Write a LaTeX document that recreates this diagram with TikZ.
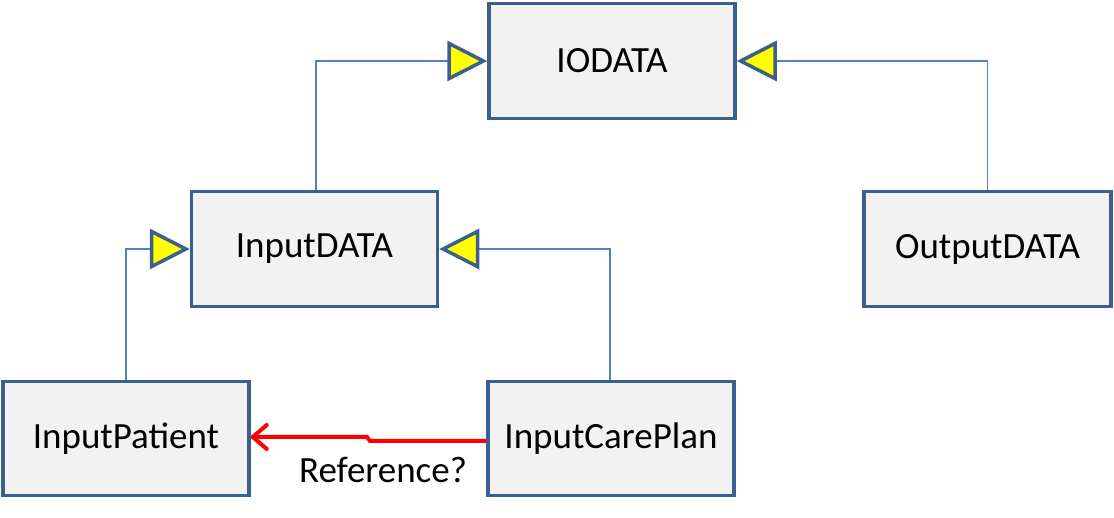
\documentclass[tikz,border=0pt]{standalone}
\usepackage{fontspec}
\setmainfont{Carlito}
\usetikzlibrary{arrows.meta}
\definecolor{bborder}{HTML}{3B5F8F}
\definecolor{bfill}{HTML}{F2F2F2}
\definecolor{lline}{HTML}{4F81BD}
\definecolor{tipyellow}{HTML}{FFFF00}
\definecolor{refred}{HTML}{FF0000}
\begin{document}
\begin{tikzpicture}[x=1pt,y=1pt,
  cls/.style={draw=bborder,fill=bfill,line width=3.5pt,minimum width=246pt,minimum height=115pt,inner sep=0pt,font=\fontsize{37}{44}\selectfont},
  inh/.style={draw=lline,line width=1.5pt,-{Triangle[fill=tipyellow,color=bborder,line width=3.5pt,length=40pt,width=40pt]}},
  refarrow/.style={draw=refred,line width=4pt,-{Straight Barb[length=14pt,width=24pt,line cap=round,line join=round]}},
  reflabel/.style={font=\fontsize{37}{44}\selectfont,inner sep=0pt}]
\useasboundingbox (0,0) rectangle (1114,517);
\node[cls] (io) at (612,456) {IODATA};
\node[cls] (idata) at (314.5,268) {InputDATA};
\node[cls,minimum width=247pt] (od) at (987.5,268) {OutputDATA};
\node[cls,minimum height=114pt] (ip) at (126,78.5) {InputPatient};
\node[cls,minimum height=114pt] (icp) at (611,78.5) {InputCarePlan};
\draw[inh] ([xshift=1.5pt]idata.north) |- (io.west);
\draw[inh] (od.north) |- (io.east);
\draw[inh] (ip.north) |- (idata.west);
\draw[inh] ([xshift=-1pt]icp.north) |- (idata.east);
\coordinate (s1) at (370,76);
\coordinate (s2) at (367,80);
\draw[refarrow] ([yshift=-2.5pt]icp.west) -- (s1) -- (s2) -- ([yshift=1.5pt]ip.east);
\node[reflabel] (lbl) at (383,47) {Reference?};
\end{tikzpicture}
\end{document}
